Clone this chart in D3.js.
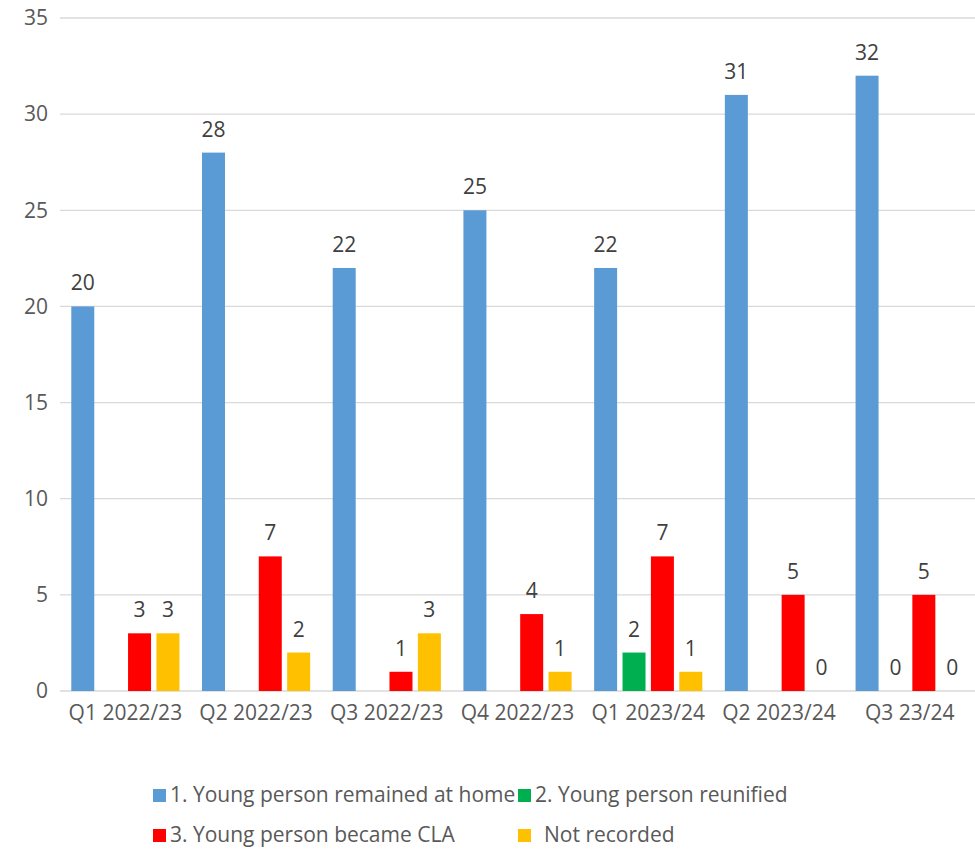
<!DOCTYPE html>
<html lang="en">
<head>
  <meta charset="UTF-8" />
  <title>Young person outcomes by quarter</title>
  <style>
    body { margin: 0; background: #fff; }
    svg { display: block; font-family: "Open Sans", "Liberation Sans", sans-serif; }
  </style>
</head>
<body>
  <svg width="975" height="850"></svg>

  <script src="https://d3js.org/d3.v7.min.js"></script>
  <script>
    // Quarters along the x axis
    const quarters = ['Q1 2022/23', 'Q2 2022/23', 'Q3 2022/23', 'Q4 2022/23', 'Q1 2023/24', 'Q2 2023/24', 'Q3 23/24'];

    // Series names and values (null = no bar, no label)
    const seriesNames = ['1. Young person remained at home', '2. Young person reunified', '3. Young person became CLA', 'Not recorded'];
    const remainedHome = [20, 28, 22, 25, 22, 31, 32];
    const reunified = [null, null, null, null, 2, null, 0];
    const becameCLA = [3, 7, 1, 4, 7, 5, 5];
    const notRecorded = [3, 2, 3, 1, 1, 0, 0];
    const seriesColors = ['#5B9BD5', '#00B050', '#FF0000', '#FFC000'];

    const yTicks = [0, 5, 10, 15, 20, 25, 30, 35];

    const allSeries = [remainedHome, reunified, becameCLA, notRecorded];

    const svg = d3.select('svg');
    const margin = { left: 60, right: 0, top: 18, bottom: 159 };
    const width = 975, height = 850;
    const fontSize = '21px';

    const x0 = d3.scaleBand()
      .domain(quarters)
      .range([margin.left, width - margin.right])
      .paddingInner(0.09)
      .paddingOuter(0.045);

    const x1 = d3.scaleBand()
      .domain(d3.range(seriesNames.length))
      .range([0, x0.bandwidth()])
      .padding(0.19);

    const y = d3.scaleLinear()
      .domain([0, 35])
      .range([height - margin.bottom, margin.top]);

    // Gridlines
    svg.append('g')
      .selectAll('line')
      .data(yTicks)
      .join('line')
      .attr('x1', margin.left)
      .attr('x2', width - margin.right)
      .attr('y1', d => y(d))
      .attr('y2', d => y(d))
      .attr('stroke', '#D9D9D9')
      .attr('stroke-width', 1.3);

    // Y axis labels
    const yAxis = svg.append('g')
      .attr('transform', `translate(${margin.left},0)`)
      .call(d3.axisLeft(y).tickValues(yTicks).tickSize(0).tickPadding(12));
    yAxis.select('.domain').remove();
    yAxis.selectAll('text')
      .attr('fill', '#595959')
      .style('font-size', fontSize)
      .style('font-family', '"Open Sans", sans-serif');

    // X axis labels
    const xAxis = svg.append('g')
      .attr('transform', `translate(0,${y(0)})`)
      .call(d3.axisBottom(x0).tickSize(0).tickPadding(14));
    xAxis.select('.domain').remove();
    xAxis.selectAll('text')
      .attr('fill', '#595959')
      .style('font-size', fontSize)
      .style('font-family', '"Open Sans", sans-serif');

    // Bars
    const groups = svg.append('g')
      .selectAll('g')
      .data(quarters)
      .join('g')
      .attr('transform', d => `translate(${x0(d)},0)`);

    groups.each(function (q, qi) {
      const g = d3.select(this);
      const vals = allSeries.map((s, si) => ({ si, v: s[qi] })).filter(d => d.v !== null);

      g.selectAll('rect')
        .data(vals)
        .join('rect')
        .attr('x', d => x1(d.si))
        .attr('width', x1.bandwidth())
        .attr('y', d => y(d.v))
        .attr('height', d => y(0) - y(d.v))
        .attr('fill', d => seriesColors[d.si]);

      g.selectAll('text.lbl')
        .data(vals)
        .join('text')
        .attr('class', 'lbl')
        .attr('x', d => x1(d.si) + x1.bandwidth() / 2)
        .attr('y', d => y(d.v) - 16)
        .attr('text-anchor', 'middle')
        .attr('fill', '#404040')
        .style('font-size', fontSize)
        .text(d => d.v);
    });

    // Legend, two rows of two
    const legendCols = [153, 518];
    const legendRows = [795, 835];
    const legend = svg.append('g')
      .selectAll('g')
      .data(seriesNames)
      .join('g')
      .attr('transform', (d, i) => `translate(${legendCols[i % 2]},${legendRows[Math.floor(i / 2)]})`);

    legend.append('rect')
      .attr('x', 0)
      .attr('y', -6)
      .attr('width', 13)
      .attr('height', 13)
      .attr('fill', (d, i) => seriesColors[i]);

    legend.append('text')
      .attr('x', (d, i) => i === 3 ? 26 : 17)
      .attr('y', 0)
      .attr('dy', '0.35em')
      .attr('fill', '#595959')
      .style('font-size', fontSize)
      .text(d => d);
  </script>
</body>
</html>
